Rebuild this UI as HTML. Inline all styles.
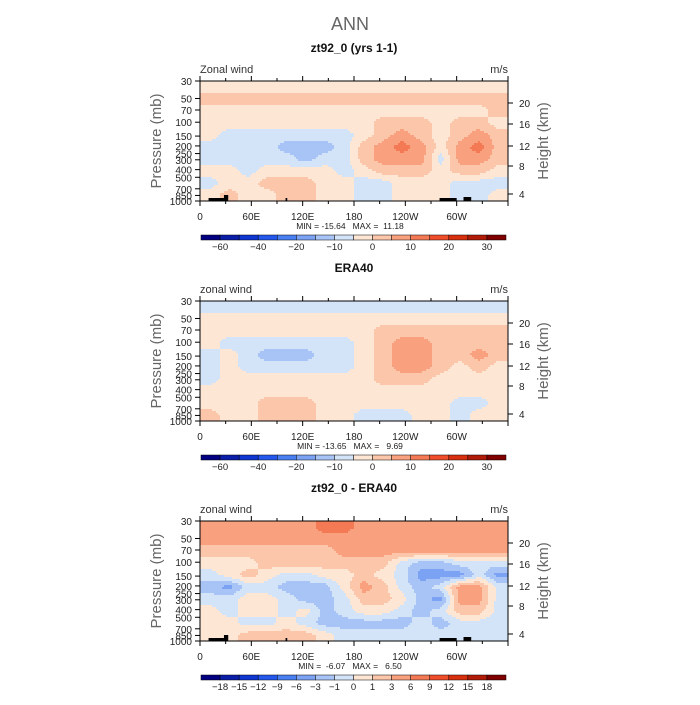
<!DOCTYPE html>
<html><head><meta charset="utf-8"><style>
body{margin:0;background:#fff}
svg text{font-family:"Liberation Sans",sans-serif;white-space:pre}
</style></head><body>
<svg id="chart" width="700" height="700" xmlns="http://www.w3.org/2000/svg">
<text x="350" y="30" font-size="18" fill="#666" text-anchor="middle">ANN</text>
</svg>
<script>
// Contour classes (level index; 0 = 0..5 class, negative = easterly classes)
const lonTicks = ["0","60E","120E","180","120W","60W"];
const pressureTicks = [30,50,70,100,150,200,250,300,400,500,700,850,1000];
const heightTicks = [20,16,12,8,4];
const heightTickPos = [103,124,146,166,194];
const cbLabels1 = ["-60","-40","-20","-10","0","10","20","30"];
const cbLabelBounds1 = [1,3,5,7,9,11,13,15];
const cbLabels3 = ["-18","-15","-12","-9","-6","-3","-1","0","1","3","6","9","12","15","18"];
const cbLabelBounds3 = [1,2,3,4,5,6,7,8,9,10,11,12,13,14,15];
const panelTitles = ["zt92_0 (yrs 1-1)","ERA40","zt92_0 - ERA40"];
const panelSub = ["Zonal wind","zonal wind","zonal wind"];
const minMax = ["MIN = -15.64   MAX =  11.18","MIN = -13.65   MAX =   9.69","MIN =  -6.07   MAX =   6.50"];
const field1 = [
[0,0,0,0,0,0,0,0,0,0,0,0,0,0,0,0],
[1,1,1,1,1,1,1,1,1,1,1,1,1,1,1,1],
[0,0,0,0,0,0,0,0,0,0,0,0,0,0,0,1],
[0,0,0,0,0,0,0,0,0,1,1,1,0,1,1,0],
[0,-1,-1,-1,-1,-1,-1,-1,0,1,2,1,0,1,2,1],
[-1,-1,-1,-1,-2,-2,-2,-1,1,2,3,2,0,2,3,1],
[-1,-1,-1,-1,-1,-2,-1,-1,1,2,2,2,-1,2,2,1],
[0,0,-1,0,0,0,0,-1,0,1,1,1,0,1,1,0],
[-1,0,0,1,1,1,0,0,-1,-1,0,0,0,-1,-1,-1],
[0,1,0,0,1,1,0,0,-1,-1,0,0,0,-1,-1,0]];
const field2 = [
[-1,-1,-1,-1,-1,-1,-1,-1,-1,-1,-1,-1,-1,-1,-1,-1],
[0,0,0,0,0,0,0,0,0,0,0,0,0,0,0,0],
[0,0,0,0,0,0,0,0,0,1,1,1,1,1,1,1],
[0,-1,-1,-1,-1,-1,-1,-1,0,1,2,2,1,1,1,1],
[-1,0,-1,-2,-2,-2,-1,-1,0,1,2,2,1,1,2,1],
[-1,0,-1,-1,-1,-1,-1,-1,0,1,2,2,1,0,1,0],
[-1,0,0,0,0,0,0,0,0,1,1,1,0,0,0,0],
[0,0,0,0,0,0,0,0,0,0,0,0,0,0,0,0],
[0,0,0,1,1,1,0,0,0,0,0,0,0,-1,-1,0],
[1,0,0,1,1,1,0,0,-1,-1,-1,0,0,-1,0,0]];
const field3 = [
[2,2,2,2,2,2,3,3,2,2,2,2,2,2,2,2],
[2,2,2,2,2,2,2,2,2,2,2,2,2,2,2,2],
[1,1,1,1,1,1,1,2,2,2,2,2,2,2,2,2],
[0,0,0,1,1,1,1,1,1,1,-1,-2,-2,-1,-1,-1],
[-1,0,1,0,-1,-1,0,0,1,0,-1,-3,-3,-3,-1,-3],
[-2,-3,-1,-1,-2,-2,-2,0,2,1,-1,-2,-1,2,2,-1],
[-1,-1,0,0,-1,-2,-2,-1,1,1,0,-2,-3,2,2,-1],
[0,-1,0,0,-1,0,-2,-1,0,0,-1,-2,-1,1,1,-1],
[0,0,-1,-1,0,-1,-2,-2,-2,-2,-2,-1,-2,-1,-1,-1],
[0,0,1,1,1,1,0,-1,-1,-1,-1,-1,-1,-1,-1,-1]];
const topoLon = [[10,28],[28,33],[100,102],[280,300],[308,317]];
const topoH = [3,6,3,3,4];

const palette=["#020080","#0a1ea8","#0e36d0","#2458ec","#4a7ff2","#7ca2f4","#a8c4f6","#d4e4f8","#fde6d4","#fcc6ab","#f9a07e","#f47a55","#f04e2a","#d8300e","#b01c08","#800000"];
const NS="http://www.w3.org/2000/svg";
const svg=document.getElementById('chart');
function mk(tag,attrs,parent){const e=document.createElementNS(NS,tag);for(const k in attrs)e.setAttribute(k,attrs[k]);(parent||svg).appendChild(e);return e;}
const L=200,W=308,H=120;
const tops=[81,301,521];
const fields=[field1,field2,field3];
function xLon(lon){return L+lon/360*W;}
function yP(p,top){return top+Math.log(p/30)/Math.log(1000/30)*H;}

fields.forEach((f,pi)=>{
  const top=tops[pi];
  const g=mk('g',{});
  
  
  const t=mk('text',{x:354,y:top-29,'font-size':12,'font-weight':'bold','text-anchor':'middle',fill:'#111'},g);
  t.textContent=panelTitles[pi];
  
  
  const s=mk('text',{x:200,y:top-8,'font-size':11,fill:'#333'},g);
  s.textContent=panelSub[pi];
  
  
  const u=mk('text',{x:508,y:top-8,'font-size':11,fill:'#333','text-anchor':'end'},g);
  u.textContent='m/s';
  
  
  const rows=f.length,cols=f[0].length,step=2;
  const cg=mk('g',{'shape-rendering':'crispEdges'},g);
  
  
  function val(px,py){
    let gx=px/W*cols-0.5,gy=py/H*rows-0.5;
    gx=Math.max(0,Math.min(cols-1,gx));gy=Math.max(0,Math.min(rows-1,gy));
    const x0=Math.floor(gx),y0=Math.floor(gy),x1=Math.min(cols-1,x0+1),y1=Math.min(rows-1,y0+1);
    const fx=gx-x0,fy=gy-y0;
    return f[y0][x0]*(1-fx)*(1-fy)+f[y0][x1]*fx*(1-fy)+f[y1][x0]*(1-fx)*fy+f[y1][x1]*fx*fy;
  }
  for(let py=0;py<H;py+=step){
    let runStart=0,runCol=null;
    for(let px=0;px<=W;px+=step){
      let c=null;
      if(px<W){let lv=Math.floor(val(px+step/2,py+step/2)+0.5);c=palette[Math.max(0,Math.min(15,8+lv))];}
      if(c!==runCol){
        if(runCol!==null){const r=mk('rect',{x:L+runStart,y:top+py,width:px-runStart,height:step,fill:runCol},cg);
          
          }
        runStart=px;runCol=c;
      }
    }
  }
  topoLon.forEach((tl,i)=>{
    if(pi===1)return;
    const r=mk('rect',{x:xLon(tl[0]),y:top+H-topoH[i],width:xLon(tl[1])-xLon(tl[0]),height:topoH[i],fill:'#000'},g);
    
    
  });
  mk('rect',{x:L,y:top,width:W,height:H,fill:'none',stroke:'#000','stroke-width':1},g);
  for(let lon=0;lon<=360;lon+=30){
    const x=xLon(lon),len=lon%60===0?5:3;
    mk('line',{x1:x,y1:top+H,x2:x,y2:top+H+len,stroke:'#000'},g);
    mk('line',{x1:x,y1:top,x2:x,y2:top-len,stroke:'#000'},g);
  }
  lonTicks.forEach((lb,i)=>{
    const tx=mk('text',{x:xLon(i*60),y:top+H+19,'font-size':10,'text-anchor':'middle',fill:'#222'},g);
    tx.textContent=lb;
    
    
  });
  pressureTicks.forEach(p=>{
    const y=yP(p,top);
    mk('line',{x1:L-5,y1:y,x2:L,y2:y,stroke:'#000'},g);
    const tx=mk('text',{x:L-8,y:y+4,'font-size':10,'text-anchor':'end',fill:'#222'},g);
    tx.textContent=p;
    
    
  });
  heightTicks.forEach((h,i)=>{
    const y=top+(heightTickPos[i]-81);
    mk('line',{x1:L+W,y1:y,x2:L+W+5,y2:y,stroke:'#000'},g);
    const tx=mk('text',{x:L+W+11,y:y+4,'font-size':10,fill:'#222'},g);
    tx.textContent=h;
    
    
  });
  const yt=mk('text',{x:0,y:0,'font-size':15,fill:'#666','text-anchor':'middle',transform:`translate(161,${top+H/2}) rotate(-90)`},g);
  yt.textContent='Pressure (mb)';
  
  
  const yt2=mk('text',{x:0,y:0,'font-size':15,fill:'#666','text-anchor':'middle',transform:`translate(548,${top+H/2}) rotate(-90)`},g);
  yt2.textContent='Height (km)';
  
  
  const mm=mk('text',{x:350,y:top+H+28,'font-size':8.5,'text-anchor':'middle',fill:'#222'},g);
  mm.textContent=minMax[pi];
  
  
  const cb=mk('g',{},g);
  
  
  const cbx=201,cbw=305/16,cby=top+H+34;
  palette.forEach((c,i)=>{
    const r=mk('rect',{x:cbx+i*cbw,y:cby,width:cbw,height:5,fill:c,stroke:'#000','stroke-width':0.5},cb);
    
    
  });
  const labs=pi===2?cbLabels3:cbLabels1, bnds=pi===2?cbLabelBounds3:cbLabelBounds1;
  labs.forEach((lb,i)=>{
    const tx=mk('text',{x:cbx+bnds[i]*cbw,y:cby+15,'font-size':9.5,'text-anchor':'middle',fill:'#222'},cb);
    tx.textContent=lb.replace('-','\u2212');
    
    
  });
});
</script>
</body></html>
